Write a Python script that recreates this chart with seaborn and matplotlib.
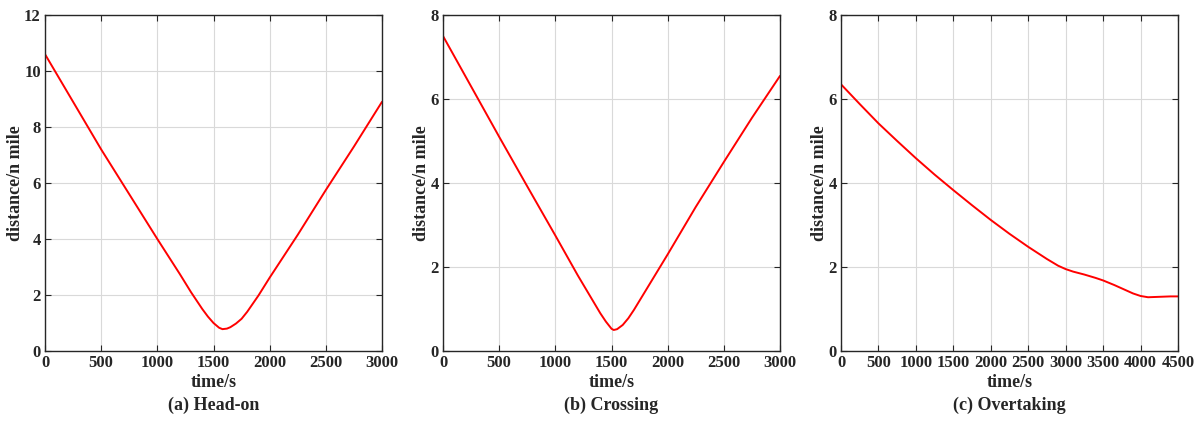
import matplotlib
matplotlib.use("Agg")
import matplotlib.pyplot as plt
import seaborn as sns
import pandas as pd

# (a) Head-on
t_head = [0, 250, 500, 750, 1000, 1200, 1300, 1400, 1450, 1500, 1550, 1580,
          1620, 1650, 1700, 1750, 1800, 1900, 2000, 2250, 2500, 2750, 3000]
d_head = [10.6, 8.9, 7.2, 5.6, 4.0, 2.75, 2.1, 1.5, 1.23, 1.0, 0.83, 0.78,
          0.80, 0.85, 0.98, 1.15, 1.4, 1.98, 2.62, 4.15, 5.75, 7.3, 8.9]

# (b) Crossing
t_cross = [0, 250, 500, 750, 1000, 1200, 1300, 1400, 1450, 1500, 1520, 1550,
           1600, 1650, 1700, 1800, 1900, 2000, 2250, 2500, 2750, 3000]
d_cross = [7.5, 6.3, 5.1, 3.92, 2.75, 1.8, 1.35, 0.9, 0.7, 0.53, 0.5, 0.52,
           0.62, 0.78, 0.98, 1.42, 1.86, 2.3, 3.43, 4.5, 5.55, 6.55]

# (c) Overtaking
t_over = [0, 250, 500, 750, 1000, 1250, 1500, 1750, 2000, 2250, 2500, 2750,
          2900, 3000, 3100, 3250, 3400, 3500, 3650, 3800, 3900, 4000, 4100,
          4250, 4400, 4500]
d_over = [6.35, 5.88, 5.42, 5.0, 4.59, 4.2, 3.83, 3.47, 3.12, 2.79, 2.48, 2.19,
          2.03, 1.95, 1.89, 1.82, 1.74, 1.68, 1.57, 1.45, 1.37, 1.31, 1.28,
          1.29, 1.3, 1.3]

captions = ["(a) Head-on", "(b) Crossing", "(c) Overtaking"]
xmaxes = [3000, 3000, 4500]
ymaxes = [12, 8, 8]

sns.set_theme(style="whitegrid")
plt.rcParams["font.family"] = ["Liberation Serif", "DejaVu Serif"]
plt.rcParams["font.weight"] = "bold"

fig = plt.figure(figsize=(12.02, 4.22), dpi=100)
lefts = [45, 443, 841]
series = [(t_head, d_head), (t_cross, d_cross), (t_over, d_over)]

for i, (t, d) in enumerate(series):
    ax = fig.add_axes([lefts[i] / 1202, 71 / 422, 337 / 1202, 336 / 422])
    df = pd.DataFrame({"time": t, "distance": d})
    sns.lineplot(data=df, x="time", y="distance", color="#ff0000",
                 linewidth=1.4, ax=ax)
    ax.set_xlim(0, xmaxes[i])
    ax.set_ylim(0, ymaxes[i])
    ax.set_xticks(range(0, xmaxes[i] + 1, 500))
    ax.set_yticks(range(0, ymaxes[i] + 1, 2))
    ax.grid(True, color="#d9d9d9", linewidth=0.8)
    ax.set_facecolor("white")
    for s in ax.spines.values():
        s.set_color("#262626")
        s.set_linewidth(1.0)
        s.set_visible(True)
    ax.tick_params(direction="in", length=4, width=0.8, top=True, right=True,
                   bottom=True, left=True, colors="#262626", labelsize=12,
                   pad=3)
    for lab in ax.get_xticklabels() + ax.get_yticklabels():
        lab.set_fontweight("bold")
        lab.set_color("#262626")
    ax.set_xlabel("time/s", fontsize=13, fontweight="bold", color="#262626",
                  labelpad=2)
    ax.set_ylabel("distance/n mile", fontsize=13, fontweight="bold",
                  color="#262626", labelpad=0)
    ax.text(0.5, -0.161, captions[i], transform=ax.transAxes, ha="center",
            va="center", fontsize=13, fontweight="bold", color="#262626")

fig.savefig("out.png", dpi=100, facecolor="white")
